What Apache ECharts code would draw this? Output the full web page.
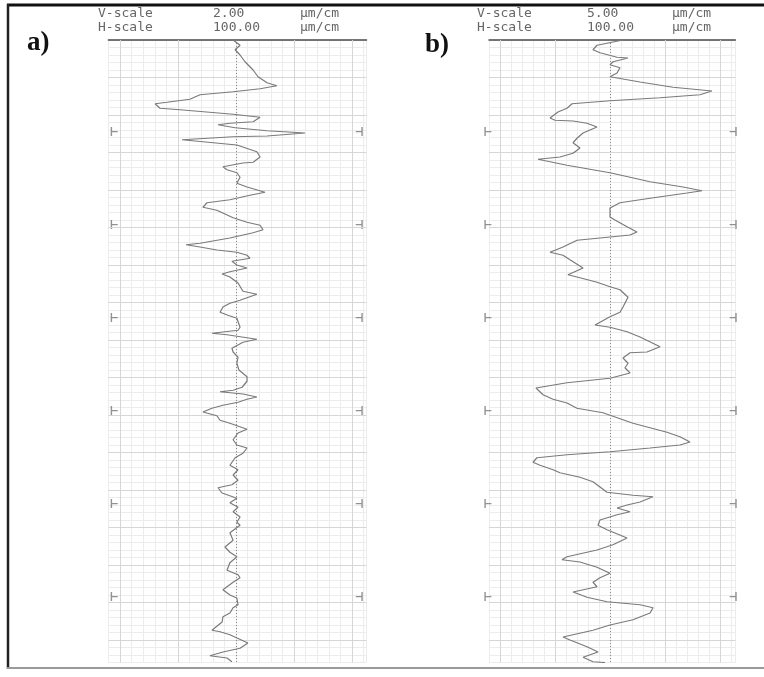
<!DOCTYPE html>
<html>
<head>
<meta charset="utf-8">
<script src="https://cdn.jsdelivr.net/npm/echarts@6/dist/echarts.min.js"></script>
<style>
html, body { margin: 0; padding: 0; background: #fff; }
#main { width: 764px; height: 677px; }
</style>
</head>
<body>
<div id="main"></div>
<script>
// profile a): distance along the trace (µm) and height (µm)
var distA = [0, 7, 13, 20, 29, 40, 49, 57, 61, 65,
  69, 73, 79, 83, 85, 91, 93, 99, 103, 109,
  111, 113, 117, 121, 124, 128, 129, 133, 140, 149,
  156, 163, 164, 169, 173, 177, 183, 191, 196, 203,
  207, 213, 217, 223, 227, 237, 243, 247, 253, 257,
  264, 271, 273, 276, 280, 283, 287, 291, 295, 300,
  304, 309, 312, 316, 324, 335, 339, 347, 351, 356,
  363, 367, 371, 383, 387, 391, 393, 399, 403, 411,
  416, 423, 431, 440, 449, 455, 463, 467, 469, 472,
  476, 479, 483, 487, 491, 496, 501, 507, 511, 519,
  524, 533, 540, 544, 551, 557, 567, 573, 580, 587,
  593, 597, 604, 611, 617, 623, 629, 636, 643, 647,
  657, 667, 676, 683, 689, 697, 707, 713, 717, 723,
  733, 740, 744, 753, 757, 764, 769, 776, 787, 789,
  793, 804, 811, 816, 821, 824, 829];
var heightA = [-0.10, 0.14, -0.03, 0.14, 0.31, 0.59, 0.76, 1.07, 1.41, 0.83,
  -0.10, -1.24, -1.59, -2.38, -2.79, -2.62, -1.93, -0.10, 0.83, 0.59,
  -0.21, -0.62, -0.03, 1.07, 2.38, 1.07, -0.10, -1.86, 0.03, 0.72,
  0.83, 0.59, 0.24, -0.45, -0.31, 0.03, 0.14, 0.03, 0.38, 1.00,
  0.48, -0.21, -1.00, -1.14, -0.66, -0.10, 0.38, 0.83, 0.93, 0.59,
  -0.21, -1.24, -1.72, -1.24, -0.66, 0.03, 0.38, 0.48, -0.14, 0.03,
  0.38, -0.21, -0.48, -0.21, 0.07, 0.24, 0.72, 0.14, -0.21, -0.45,
  -0.55, -0.28, 0.03, 0.14, 0.07, -0.83, -0.31, 0.72, 0.24, -0.14,
  -0.10, 0.07, 0.03, 0.10, 0.38, 0.38, 0.21, -0.10, -0.55, 0.24,
  0.72, 0.38, 0.07, -0.45, -0.83, -1.14, -0.66, -0.55, -0.21, 0.38,
  0.07, -0.10, 0.03, 0.38, 0.24, -0.03, -0.21, 0.07, -0.10, 0.07,
  -0.14, -0.62, -0.48, 0.03, -0.21, 0.07, -0.10, 0.14, 0.03, 0.14,
  -0.21, -0.10, -0.38, -0.21, 0.03, -0.21, -0.31, 0.07, 0.14, -0.10,
  -0.45, -0.21, 0.03, 0.07, -0.10, -0.21, -0.45, -0.48, -0.83, -0.55,
  -0.21, 0.41, 0.14, -0.45, -0.90, -0.31, -0.14];

// profile b)
var distB = [0, 7, 13, 17, 23, 24, 29, 33, 37, 44,
  49, 56, 63, 68, 73, 77, 81, 85, 91, 96,
  104, 107, 108, 111, 116, 120, 124, 131, 137, 144,
  151, 156, 159, 167, 177, 189, 196, 201, 204, 211,
  217, 224, 236, 240, 249, 256, 260, 264, 267, 276,
  283, 287, 293, 304, 313, 317, 323, 329, 333, 343,
  356, 363, 369, 380, 383, 389, 396, 409, 416, 417,
  424, 431, 437, 444, 451, 457, 464, 473, 479, 484,
  491, 497, 511, 523, 529, 536, 540, 544, 549, 553,
  557, 563, 567, 573, 577, 583, 589, 596, 603, 607,
  609, 616, 620, 624, 629, 633, 640, 647, 653, 664,
  673, 680, 689, 693, 696, 703, 711, 717, 723, 729,
  736, 743, 749, 753, 757, 764, 773, 780, 787, 796,
  800, 809, 816, 823, 829, 830];
var heightB = [1.18, -1.18, -1.55, -0.91, 0.64, 1.64, 0.27, 0, 0.91, 0.64,
  0, 2.73, 5.73, 9.27, 8.18, 4.55, 0, -3.45, -3.91, -4.73,
  -5.45, -5.0, -3.36, -2.09, -1.18, -1.82, -2.45, -3.0, -3.36, -2.73,
  -3.36, -4.55, -6.55, -3.91, 0, 3.64, 6.64, 8.36, 7.0, 3.64,
  0.91, 0, 0, 0.45, 1.55, 2.45, 1.82, -0.91, -3.0, -4.27,
  -5.45, -4.27, -3.64, -2.45, -3.82, -2.73, -1.18, 0, 0.91, 1.64,
  1.18, 0.91, 0, -1.36, 0, 1.55, 2.73, 4.55, 3.36, 1.82,
  1.18, 1.64, 1.36, 1.82, 0, -3.91, -6.73, -6.09, -5.18, -3.91,
  -3.0, -0.64, 2.09, 5.18, 6.36, 7.27, 6.36, 3.64, 0, -3.91,
  -6.64, -7.0, -6.36, -5.18, -4.55, -2.73, -1.55, -0.91, -0.27, 2.09,
  3.91, 2.73, 1.55, 0.64, 1.82, 0.64, -0.91, -1.09, -0.27, 1.55,
  0.27, -1.18, -3.91, -4.36, -2.73, -1.18, 0, -0.91, -1.55, -1.18,
  -3.36, -2.09, -0.27, 2.73, 3.91, 3.64, 2.09, 0, -1.55, -4.27,
  -3.64, -2.09, -1.09, -2.45, -1.55, -0.45];

var markerRows = [122, 246, 370, 494, 618, 742];
var scaleTextA = ['V-scale', '2.00', 'µm/cm', 'H-scale', '100.00', 'µm/cm'];
var scaleTextB = ['V-scale', '5.00', 'µm/cm', 'H-scale', '100.00', 'µm/cm'];
var panelLabels = ['a)', 'b)'];

var chart = echarts.init(document.getElementById('main'));

var minorColor = '#ececec';
var majorColor = '#d6d6d6';
var traceColor = '#7a7a7a';

function zip(xs, ys) {
  return ys.map(function (y, i) { return [xs[i], y]; });
}

// major grid lines of the chart paper + dotted centre line
function paperLines(majorX) {
  var items = [];
  majorX.forEach(function (v) {
    items.push({ xAxis: v, lineStyle: { color: majorColor, width: 1, type: 'solid' } });
  });
  for (var d = 50; d < 830; d += 50) {
    items.push({ yAxis: d, lineStyle: { color: majorColor, width: 1, type: 'solid' } });
  }
  items.push({ xAxis: 0, lineStyle: { color: '#8a8a8a', width: 1, type: [1, 2] } });
  return items;
}

var leftTick = 'path://M0,0h1.4v9h-1.4z M0,4h7v1.2h-7z';
var rightTick = 'path://M5.6,0h1.4v9h-1.4z M0,4h7v1.2h-7z';

function markers(idx, xl, xr, majorX) {
  var data = [];
  markerRows.forEach(function (r) {
    data.push({ value: [xl, r], symbol: leftTick });
    data.push({ value: [xr, r], symbol: rightTick });
  });
  return {
    type: 'scatter', xAxisIndex: idx, yAxisIndex: idx, z: 2,
    clip: false, silent: true, symbolSize: [7, 9],
    itemStyle: { color: '#777' },
    data: data,
    markLine: {
      silent: true, symbol: ['none', 'none'], label: { show: false },
      animation: false, data: paperLines(majorX)
    }
  };
}

function xAxisFor(idx, min, max, step) {
  return {
    gridIndex: idx, type: 'value', position: 'top', min: min, max: max, interval: step,
    axisLine: { show: true, onZero: false, lineStyle: { color: '#4a4a4a', width: 1.5 } },
    axisTick: { show: false }, axisLabel: { show: false },
    splitLine: { show: true, lineStyle: { color: minorColor, width: 1 } }
  };
}

function yAxisFor(idx) {
  return {
    gridIndex: idx, type: 'value', inverse: true, min: 0, max: 830, interval: 10,
    axisLine: { show: false }, axisTick: { show: false }, axisLabel: { show: false },
    splitLine: { show: true, lineStyle: { color: minorColor, width: 1 } }
  };
}

function headerTitles(texts, xs) {
  var out = [];
  texts.forEach(function (t, i) {
    out.push({
      text: t, left: xs[i % 3], top: i < 3 ? 7 : 21, padding: 0,
      textStyle: { fontFamily: 'DejaVu Sans Mono', fontSize: 13, fontWeight: 'normal', color: '#666' }
    });
  });
  return out;
}

var titles = headerTitles(scaleTextA, [98, 213, 300])
  .concat(headerTitles(scaleTextB, [477, 587, 672]));
titles.push({ text: panelLabels[0], left: 27, top: 30, padding: 0,
  textStyle: { fontFamily: 'Liberation Serif', fontSize: 27, fontWeight: 'bold', color: '#111' } });
titles.push({ text: panelLabels[1], left: 425, top: 32, padding: 0,
  textStyle: { fontFamily: 'Liberation Serif', fontSize: 27, fontWeight: 'bold', color: '#111' } });

var option = {
  animation: false,
  backgroundColor: '#fff',
  title: titles,
  grid: [
    { left: 108.4, top: 40, width: 258.1, height: 622.5 },
    { left: 489, top: 40, width: 246.4, height: 622.5 }
  ],
  xAxis: [xAxisFor(0, -4.4, 4.5, 0.4), xAxisFor(1, -11, 11.4, 1)],
  yAxis: [yAxisFor(0), yAxisFor(1)],
  graphic: [
    { type: 'line', shape: { x1: 7, y1: 5, x2: 764, y2: 5 }, style: { stroke: '#111', lineWidth: 3 } },
    { type: 'line', shape: { x1: 8, y1: 4, x2: 8, y2: 669 }, style: { stroke: '#222', lineWidth: 2.5 } },
    { type: 'line', shape: { x1: 7, y1: 668, x2: 764, y2: 668 }, style: { stroke: '#999', lineWidth: 2 } }
  ],
  series: [
    markers(0, -4.2, 4.25, [-4, -2, 2, 4]),
    markers(1, -11.1, 11.2, [-10, -5, 5, 10]),
    {
      type: 'line', xAxisIndex: 0, yAxisIndex: 0, z: 5,
      showSymbol: false, silent: true,
      lineStyle: { color: traceColor, width: 1.2 },
      data: zip(heightA, distA)
    },
    {
      type: 'line', xAxisIndex: 1, yAxisIndex: 1, z: 5,
      showSymbol: false, silent: true,
      lineStyle: { color: traceColor, width: 1.2 },
      data: zip(heightB, distB)
    }
  ]
};

chart.setOption(option);
</script>
</body>
</html>
